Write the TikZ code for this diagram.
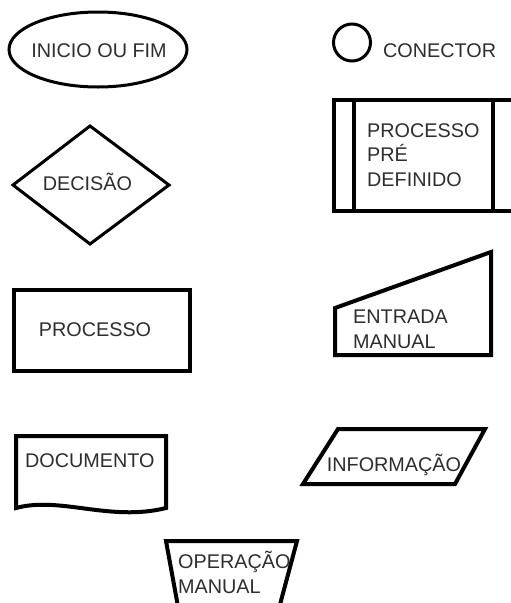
\documentclass[tikz,border=0pt]{standalone}
\usepackage{fontspec}
\setmainfont{Liberation Sans}
\begin{document}
\begin{tikzpicture}[x=1pt,y=-1pt,
    shapeline/.style={draw=black,line width=4pt,line join=miter},
    thinline/.style={draw=black,line width=3pt},
    label/.style={inner sep=0pt,text=black!82,font=\fontsize{19.8}{24.5}\selectfont},
    leftlabel/.style={label,anchor=base west,align=left}]
  \useasboundingbox[fill=white] (0,0) rectangle (511,603);
  \clip (0,0) rectangle (511,603);

  % start / end terminal
  \draw[thinline] (98,49.5) ellipse [x radius=89, y radius=37.5];
  \node[label,anchor=base] (inicio) at (99,57) {INICIO OU FIM};

  % connector
  \draw[thinline] (352,42.5) circle [radius=18.5];
  \node[leftlabel] (conector) at (383,57) {CONECTOR};

  % decision
  \draw[thinline,line join=miter] (13,185) -- (90,126) -- (169,185) -- (90,244) -- cycle;
  \node[label,anchor=base] (decisao) at (87.5,190) {DECISÃO};

  % predefined process (runs past the right edge); base = last line
  \draw[shapeline] (334,100) rectangle (530,211);
  \draw[shapeline] (354,100) -- (354,213);
  \draw[shapeline] (493,100) -- (493,213);
  \node[leftlabel] (predef) at (367,186) {PROCESSO\\PRÉ\\DEFINIDO};

  % process
  \draw[shapeline] (14,290) rectangle (190,371);
  \node[label,anchor=base] (processo) at (95,336) {PROCESSO};

  % manual input
  \draw[shapeline] (335,355) -- (335,308) -- (491,252) -- (491,355) -- cycle;
  \node[leftlabel] (entrada) at (353,348) {ENTRADA\\MANUAL};

  % document with wavy lower edge
  \draw[shapeline] (16,508) -- (16,436) -- (166,436) -- (166,508)
    .. controls (110,522) and (60,496) .. (16,508) -- cycle;
  \node[leftlabel] (documento) at (25,467) {DOCUMENTO};

  % information (parallelogram)
  \draw[shapeline] (338,429) -- (485,429) -- (455,484) -- (303,484) -- cycle;
  \node[label,anchor=base] (informacao) at (394,471) {INFORMAÇÃO};

  % manual operation (trapezoid, cut by the lower edge)
  \draw[shapeline] (179,612) -- (166,541) -- (297,541) -- (278,612);
  \node[leftlabel] (operacao) at (178,593) {OPERAÇÃO\\MANUAL};
\end{tikzpicture}
\end{document}
